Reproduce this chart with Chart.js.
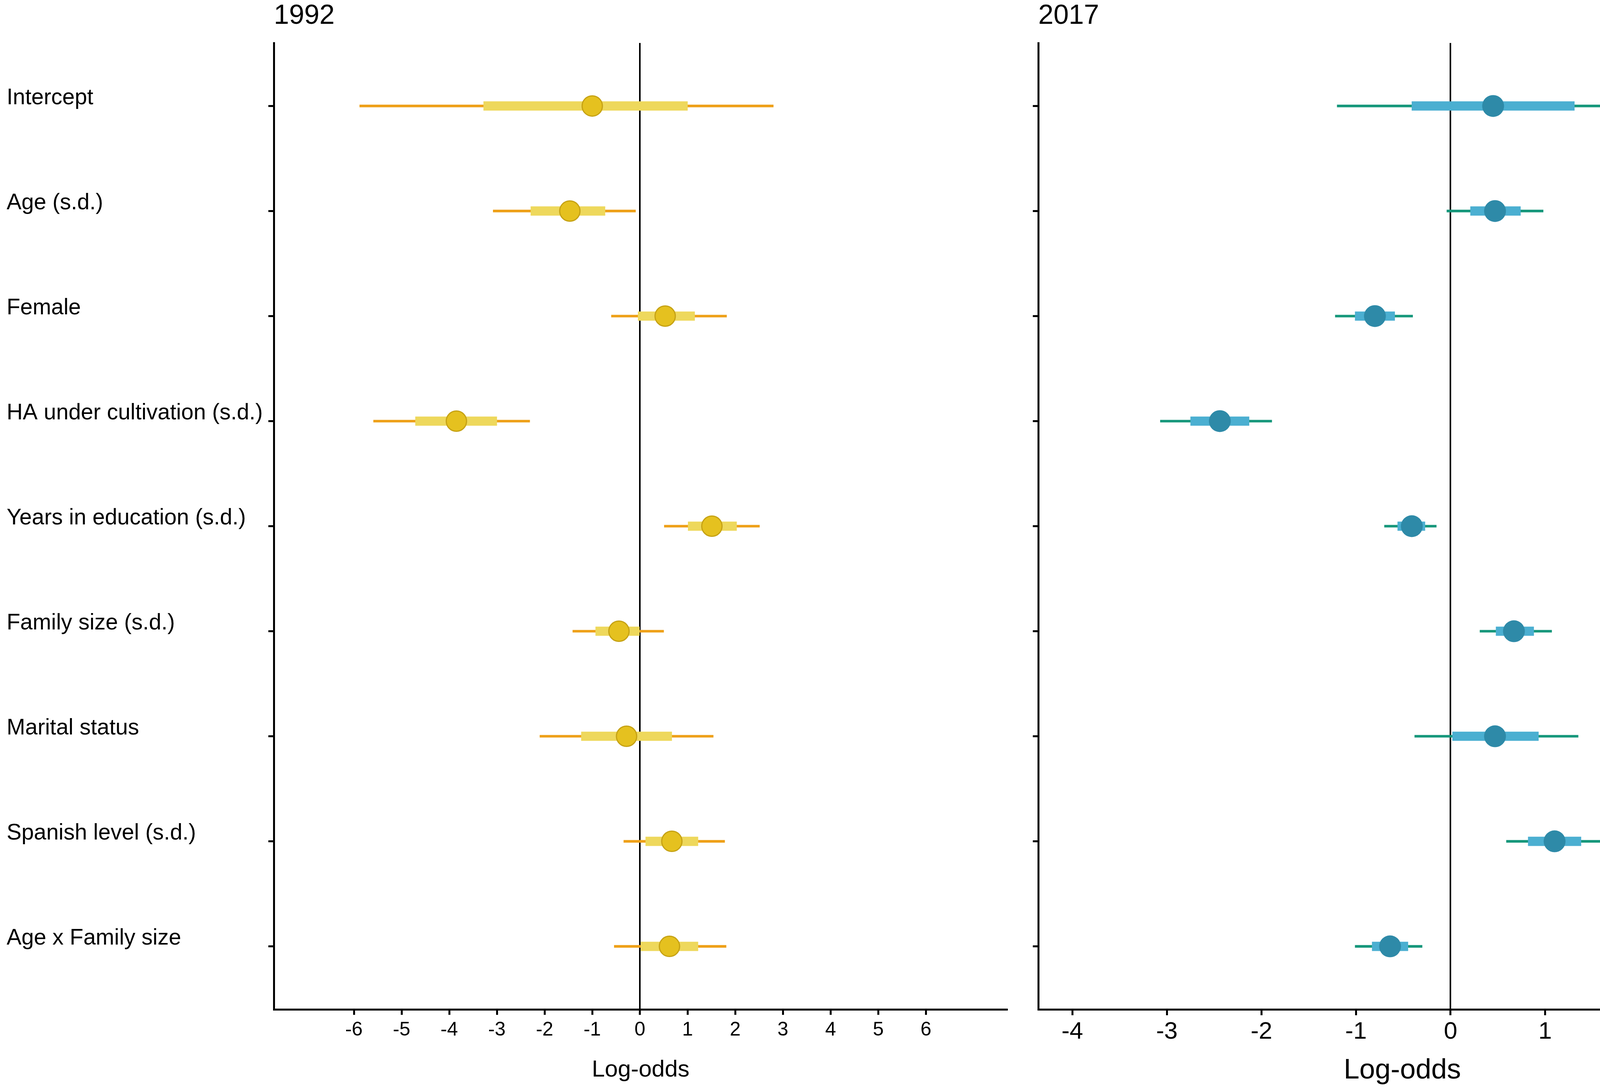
<!DOCTYPE html>
<html lang="en">
<head>
  <meta charset="UTF-8" />
  <title>Log-odds 1992 / 2017</title>
  <script src="https://cdn.jsdelivr.net/npm/chart.js"></script>
  <style>
    body {
      margin: 0;
      background: #ffffff;
      width: 4550px;
      height: 2794px;
      overflow: hidden;
    }
    canvas {
      position: absolute;
      top: 0;
    }
    #chart1992 { left: 0; }
    #chart2017 { left: 2620px; }
  </style>
</head>
<body>
  <canvas id="chart1992" width="2620" height="2794"></canvas>
  <canvas id="chart2017" width="1930" height="2794"></canvas>

  <script>
    const categories = [
      'Intercept',
      'Age (s.d.)',
      'Female',
      'HA under cultivation (s.d.)',
      'Years in education (s.d.)',
      'Family size (s.d.)',
      'Marital status',
      'Spanish level (s.d.)',
      'Age x Family size'
    ];

    // 1992 estimates and intervals
    const est1992      = [-1.00, -1.47,  0.53, -3.85, 1.51, -0.44, -0.28, 0.67, 0.62];
    const innerLo1992  = [-3.28, -2.29, -0.04, -4.71, 1.01, -0.93, -1.23, 0.12, 0.02];
    const innerHi1992  = [ 1.00, -0.73,  1.15, -3.00, 2.03, -0.01,  0.67, 1.22, 1.22];
    const outerLo1992  = [-5.88, -3.08, -0.60, -5.59, 0.51, -1.41, -2.10, -0.34, -0.54];
    const outerHi1992  = [ 2.80, -0.09,  1.82, -2.31, 2.51,  0.50,  1.54, 1.78, 1.81];
    const ticks1992    = [-6, -5, -4, -3, -2, -1, 0, 1, 2, 3, 4, 5, 6];

    // 2017 estimates and intervals
    const est2017      = [ 0.45,  0.47, -0.80, -2.44, -0.41, 0.67,  0.47, 1.10, -0.64];
    const innerLo2017  = [-0.41,  0.21, -1.01, -2.75, -0.56, 0.48,  0.02, 0.82, -0.83];
    const innerHi2017  = [ 1.31,  0.74, -0.59, -2.13, -0.27, 0.88,  0.93, 1.38, -0.45];
    const outerLo2017  = [-1.20, -0.04, -1.22, -3.07, -0.70, 0.31, -0.38, 0.59, -1.01];
    const outerHi2017  = [ 2.09,  0.98, -0.40, -1.89, -0.15, 1.07,  1.35, 1.65, -0.30];
    const ticks2017    = [-4, -3, -2, -1, 0, 1, 2, 3];

    const FONT = "'Liberation Sans', Arial, Helvetica, sans-serif";

    function intervals(lo, hi) {
      return lo.map((v, i) => ({ x: [v, hi[i]], y: i }));
    }

    function points(est) {
      return est.map((v, i) => ({ x: v, y: i }));
    }

    function makeChart(id, cfg) {
      const ctx = document.getElementById(id).getContext('2d');
      return new Chart(ctx, {
        type: 'bar',
        data: {
          datasets: [
            {
              type: 'scatter',
              data: points(cfg.est),
              pointRadius: cfg.pointRadius,
              pointBackgroundColor: cfg.pointColor,
              pointBorderColor: cfg.pointBorder,
              pointBorderWidth: cfg.pointBorderWidth,
              showLine: false,
              order: 0
            },
            {
              data: intervals(cfg.innerLo, cfg.innerHi),
              indexAxis: 'y',
              grouped: false,
              barThickness: 23,
              backgroundColor: cfg.innerColor,
              borderWidth: 0,
              order: 1
            },
            {
              data: intervals(cfg.outerLo, cfg.outerHi),
              indexAxis: 'y',
              grouped: false,
              barThickness: 6,
              backgroundColor: cfg.outerColor,
              borderWidth: 0,
              order: 2
            }
          ]
        },
        options: {
          responsive: false,
          devicePixelRatio: 1,
          animation: false,
          events: [],
          layout: {
            padding: { left: cfg.padLeft, right: cfg.padRight, top: 0, bottom: 0 }
          },
          plugins: {
            legend: { display: false },
            tooltip: { enabled: false },
            title: {
              display: true,
              text: cfg.title,
              align: 'start',
              fullSize: false,
              color: '#000',
              font: { family: FONT, size: 70, weight: 'normal' },
              padding: { top: 0, bottom: 26 }
            }
          },
          scales: {
            x: {
              type: 'linear',
              position: 'bottom',
              offset: false,
              min: cfg.xMin,
              max: cfg.xMax,
              afterBuildTicks: (scale) => {
                scale.ticks = cfg.xTicks.map(v => ({ value: v }));
              },
              afterFit: (scale) => { scale.height = 209; },
              grid: {
                offset: false,
                drawOnChartArea: true,
                drawTicks: true,
                tickLength: cfg.xTickLength,
                tickWidth: 5,
                tickColor: '#000',
                color: (c) => c.tick && c.tick.value === 0 ? '#000' : 'rgba(0,0,0,0)',
                lineWidth: (c) => c.tick && c.tick.value === 0 ? 4 : 1
              },
              border: { display: true, color: '#000', width: 5 },
              ticks: {
                color: '#000',
                padding: cfg.xTickPad,
                font: { family: FONT, size: cfg.xTickSize },
                maxRotation: 0,
                autoSkip: false
              },
              title: {
                display: true,
                text: 'Log-odds',
                color: '#000',
                font: { family: FONT, size: cfg.xTitleSize },
                padding: { top: 0, bottom: cfg.xTitlePad }
              }
            },
            y: {
              type: 'linear',
              position: 'left',
              offset: false,
              reverse: true,
              min: -0.6,
              max: 8.6,
              afterBuildTicks: (scale) => {
                scale.ticks = categories.map((c, i) => ({ value: i }));
              },
              afterFit: (scale) => { scale.width = cfg.yWidth; },
              grid: {
                offset: false,
                drawOnChartArea: false,
                drawTicks: true,
                tickLength: 14,
                tickWidth: 5,
                tickColor: '#000'
              },
              border: { display: true, color: '#000', width: 5 },
              ticks: {
                display: cfg.showLabels,
                autoSkip: false,
                crossAlign: 'far',
                labelOffset: -20,
                color: '#000',
                font: { family: FONT, size: 57 },
                callback: (v) => categories[v] || ''
              }
            }
          }
        }
      });
    }

    makeChart('chart1992', {
      title: '1992',
      est: est1992, innerLo: innerLo1992, innerHi: innerHi1992,
      outerLo: outerLo1992, outerHi: outerHi1992,
      xTicks: ticks1992, xMin: -7.68, xMax: 7.71,
      pointRadius: 26, pointColor: '#E5C11F', pointBorder: '#C6A214', pointBorderWidth: 3,
      innerColor: '#EED85C', outerColor: '#EEA018',
      padLeft: 17, padRight: 41, yWidth: 684, showLabels: true,
      xTickLength: 14, xTickPad: 9, xTickSize: 50,
      xTitleSize: 60, xTitlePad: 18
    });

    makeChart('chart2017', {
      title: '2017',
      est: est2017, innerLo: innerLo2017, innerHi: innerHi2017,
      outerLo: outerLo2017, outerHi: outerHi2017,
      xTicks: ticks2017, xMin: -4.36, xMax: 3.34,
      pointRadius: 28, pointColor: '#2E8AA8', pointBorder: '#2E8AA8', pointBorderWidth: 0,
      innerColor: '#4BAFD1', outerColor: '#16977B',
      padLeft: 0, padRight: 16, yWidth: 38, showLabels: false,
      xTickLength: 15, xTickPad: 6, xTickSize: 62,
      xTitleSize: 72, xTitlePad: 9
    });
  </script>
</body>
</html>
